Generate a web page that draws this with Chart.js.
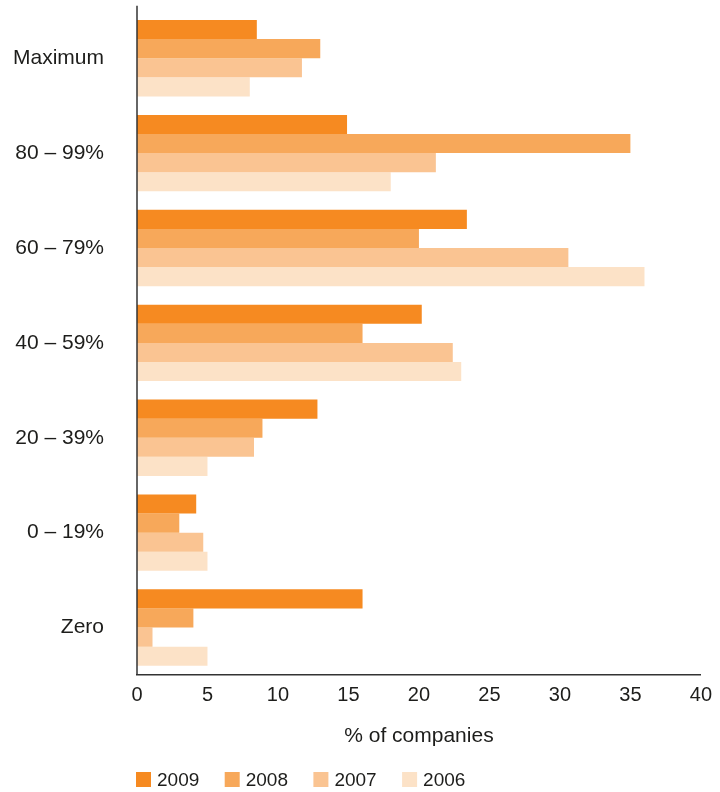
<!DOCTYPE html>
<html>
<head>
<meta charset="utf-8">
<script src="https://cdn.jsdelivr.net/npm/chart.js@4/dist/chart.umd.min.js"></script>
<style>
  html, body { margin: 0; padding: 0; background: #ffffff; }
  #wrap { position: relative; width: 720px; height: 792px; }
</style>
</head>
<body>
<div id="wrap"><canvas id="chart" width="720" height="792"></canvas></div>
<script>
// Share of companies by level, per survey year
const categories = ['Maximum', '80 – 99%', '60 – 79%', '40 – 59%', '20 – 39%', '0 – 19%', 'Zero'];
const years = ['2009', '2008', '2007', '2006'];
const values2009 = [8.5, 14.9, 23.4, 20.2, 12.8, 4.2, 16.0];
const values2008 = [13.0, 35.0, 20.0, 16.0, 8.9, 3.0, 4.0];
const values2007 = [11.7, 21.2, 30.6, 22.4, 8.3, 4.7, 1.1];
const values2006 = [8.0, 18.0, 36.0, 23.0, 5.0, 5.0, 5.0];
const xTicks = [0, 5, 10, 15, 20, 25, 30, 35, 40];

const colors = ['#F68A21', '#F7A85A', '#FAC492', '#FCE2C7'];
const seriesValues = [values2009, values2008, values2007, values2006];

const FONT = '"Liberation Sans", Arial, Helvetica, sans-serif';
const TEXT = '#1d1d1b';
const AXIS = '#333333';

// Legend row under the axis title, left-aligned with the value axis
const legendRow = {
  id: 'legendRow',
  afterDraw(chart) {
    const ctx = chart.ctx;
    const x0 = chart.chartArea.left - 1;
    const step = 88.7;
    const yc = 779.5;
    ctx.save();
    ctx.font = '19px ' + FONT;
    ctx.textBaseline = 'middle';
    ctx.textAlign = 'left';
    chart.data.datasets.forEach((ds, i) => {
      const x = x0 + i * step;
      ctx.fillStyle = ds.backgroundColor;
      ctx.fillRect(x, yc - 7.5, 15, 15);
      ctx.fillStyle = TEXT;
      ctx.fillText(ds.label, x + 21, yc + 1);
    });
    ctx.restore();
  }
};

// Category axis line drawn over the bars, running slightly above the first group
const categoryAxisLine = {
  id: 'categoryAxisLine',
  afterDatasetsDraw(chart) {
    const ctx = chart.ctx;
    const a = chart.chartArea;
    ctx.save();
    ctx.strokeStyle = AXIS;
    ctx.lineWidth = 1.5;
    ctx.beginPath();
    ctx.moveTo(a.left, a.top - 5);
    ctx.lineTo(a.left, a.bottom);
    ctx.stroke();
    ctx.restore();
  }
};

new Chart(document.getElementById('chart'), {
  type: 'bar',
  data: {
    labels: categories,
    datasets: years.map((y, i) => ({
      label: y,
      data: seriesValues[i],
      backgroundColor: colors[i],
      borderWidth: 0,
      categoryPercentage: 0.805,
      barPercentage: 1.0
    }))
  },
  options: {
    indexAxis: 'y',
    responsive: false,
    animation: false,
    devicePixelRatio: 1,
    layout: { padding: { top: 10.75, right: 18, bottom: 37, left: 0 } },
    plugins: {
      legend: { display: false },
      tooltip: { enabled: false }
    },
    scales: {
      x: {
        min: 0,
        max: 40,
        afterBuildTicks(scale) { scale.ticks = xTicks.map(v => ({ value: v })); },
        afterFit(scale) { scale.height = 80; },
        grid: { display: false, drawTicks: false },
        border: { display: true, color: AXIS, width: 1.5 },
        ticks: { padding: 8, color: TEXT, font: { family: FONT, size: 20 } },
        title: {
          display: true,
          text: '% of companies',
          color: TEXT,
          font: { family: FONT, size: 21 },
          padding: { top: 0, bottom: 6 }
        }
      },
      y: {
        afterFit(scale) {
          scale.width = 137;
          scale.paddingTop = 0;
          scale.paddingBottom = 0;
        },
        grid: { display: false, drawTicks: false },
        border: { display: false },
        ticks: { padding: 33, color: TEXT, font: { family: FONT, size: 21 } }
      }
    }
  },
  plugins: [legendRow, categoryAxisLine]
});
</script>
</body>
</html>
